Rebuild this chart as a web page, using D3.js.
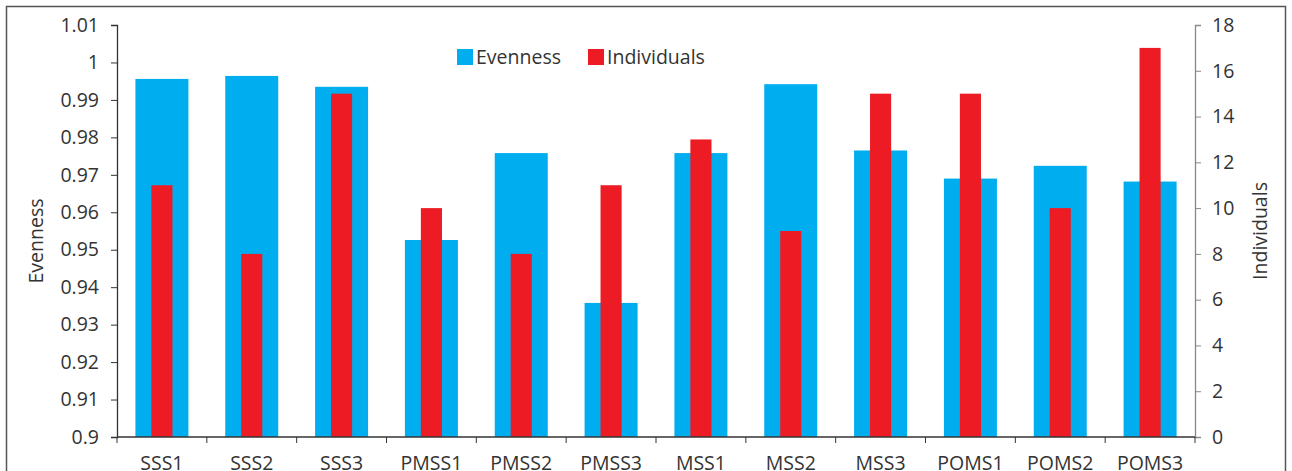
<!DOCTYPE html>
<html>
<head>
<meta charset="utf-8">
<script src="https://cdn.jsdelivr.net/npm/d3@7"></script>
<style>
  body { margin: 0; background: #fff; }
  text { font-family: "Open Sans", "Noto Sans", sans-serif; fill: #333; }
</style>
</head>
<body>
<div id="chart"></div>
<script>
// categories and series
const sites = ["SSS1", "SSS2", "SSS3", "PMSS1", "PMSS2", "PMSS3", "MSS1", "MSS2", "MSS3", "POMS1", "POMS2", "POMS3"];
const evenness = [0.9956, 0.9964, 0.9935, 0.9526, 0.9758, 0.9358, 0.9758, 0.9942, 0.9765, 0.9690, 0.9724, 0.9682];
const individuals = [11, 8, 15, 10, 8, 11, 13, 9, 15, 15, 10, 17];
const leftTicks = [0.9, 0.91, 0.92, 0.93, 0.94, 0.95, 0.96, 0.97, 0.98, 0.99, 1, 1.01];
const rightTicks = [0, 2, 4, 6, 8, 10, 12, 14, 16, 18];

const width = 1292, height = 471;
const plot = { left: 117, right: 1195, top: 25, bottom: 437 };
const blue = "#00aeef", red = "#ed1c24";
const fontSize = "19.5px";

const svg = d3.select("#chart").append("svg")
  .attr("width", width)
  .attr("height", height);

// outer frame
svg.append("rect")
  .attr("x", 6.5).attr("y", 6.5)
  .attr("width", 1279).attr("height", 480)
  .attr("fill", "none")
  .attr("stroke", "#555")
  .attr("stroke-width", 1.5);

const x = d3.scaleBand().domain(sites).range([plot.left, plot.right]);
const yL = d3.scaleLinear().domain([0.9, 1.01]).range([plot.bottom, plot.top]);
const yR = d3.scaleLinear().domain([0, 18]).range([plot.bottom, plot.top]);

const blueW = x.bandwidth() * 0.59;
const redW = x.bandwidth() * 0.235;

// evenness bars
svg.append("g").selectAll("rect")
  .data(sites)
  .join("rect")
    .attr("x", d => x(d) + (x.bandwidth() - blueW) / 2)
    .attr("y", (d, i) => yL(evenness[i]))
    .attr("width", blueW)
    .attr("height", (d, i) => yL(0.9) - yL(evenness[i]))
    .attr("fill", blue);

// individuals bars
svg.append("g").selectAll("rect")
  .data(sites)
  .join("rect")
    .attr("x", d => x(d) + (x.bandwidth() - redW) / 2)
    .attr("y", (d, i) => yR(individuals[i]))
    .attr("width", redW)
    .attr("height", (d, i) => yR(0) - yR(individuals[i]))
    .attr("fill", red);

// left axis
const leftAxis = svg.append("g")
  .attr("transform", `translate(${plot.left},0)`)
  .call(d3.axisLeft(yL).tickValues(leftTicks).tickSize(6).tickFormat(d3.format("~g")));
leftAxis.select(".domain").attr("stroke", "#333").attr("stroke-width", 1.3);
leftAxis.selectAll(".tick line").attr("stroke", "#333");
leftAxis.selectAll(".tick text")
  .attr("x", -18)
  .style("font-size", fontSize)
  .attr("fill", "#333");

// right axis
const rightAxis = svg.append("g")
  .attr("transform", `translate(${plot.right},0)`)
  .call(d3.axisRight(yR).tickValues(rightTicks).tickSize(6));
rightAxis.select(".domain").attr("stroke", "#888").attr("stroke-width", 1.3);
rightAxis.selectAll(".tick line").attr("stroke", "#888");
rightAxis.selectAll(".tick text")
  .attr("x", 17)
  .style("font-size", fontSize)
  .attr("fill", "#333");

// bottom axis, ticks on category boundaries
const bottom = svg.append("g").attr("transform", `translate(0,${plot.bottom})`);
bottom.append("line")
  .attr("x1", plot.left).attr("x2", plot.right)
  .attr("stroke", "#333").attr("stroke-width", 1.3);
const bounds = sites.map(d => x(d)).concat([plot.right]);
bottom.selectAll(".bt")
  .data(bounds)
  .join("line")
    .attr("class", "bt")
    .attr("x1", d => d).attr("x2", d => d)
    .attr("y1", 0).attr("y2", 6)
    .attr("stroke", "#333");
bottom.selectAll(".bl")
  .data(sites)
  .join("text")
    .attr("class", "bl")
    .attr("x", d => x(d) + x.bandwidth() / 2)
    .attr("y", 33)
    .attr("text-anchor", "middle")
    .style("font-size", fontSize)
    .text(d => d);

// axis titles
svg.append("text")
  .attr("transform", `translate(43,${(plot.top + plot.bottom) / 2 + 10}) rotate(-90)`)
  .attr("text-anchor", "middle")
  .style("font-size", fontSize)
  .text("Evenness");
svg.append("text")
  .attr("transform", `translate(1267,${(plot.top + plot.bottom) / 2}) rotate(-90)`)
  .attr("text-anchor", "middle")
  .style("font-size", fontSize)
  .text("Individuals");

// legend
const legendItems = [
  { label: "Evenness", color: blue, x: 457 },
  { label: "Individuals", color: red, x: 588 }
];
const legend = svg.append("g").selectAll("g")
  .data(legendItems)
  .join("g")
    .attr("transform", d => `translate(${d.x},49)`);
legend.append("rect")
  .attr("width", 16).attr("height", 16)
  .attr("fill", d => d.color);
legend.append("text")
  .attr("x", 19).attr("y", 15)
  .style("font-size", fontSize)
  .text(d => d.label);
</script>
</body>
</html>
